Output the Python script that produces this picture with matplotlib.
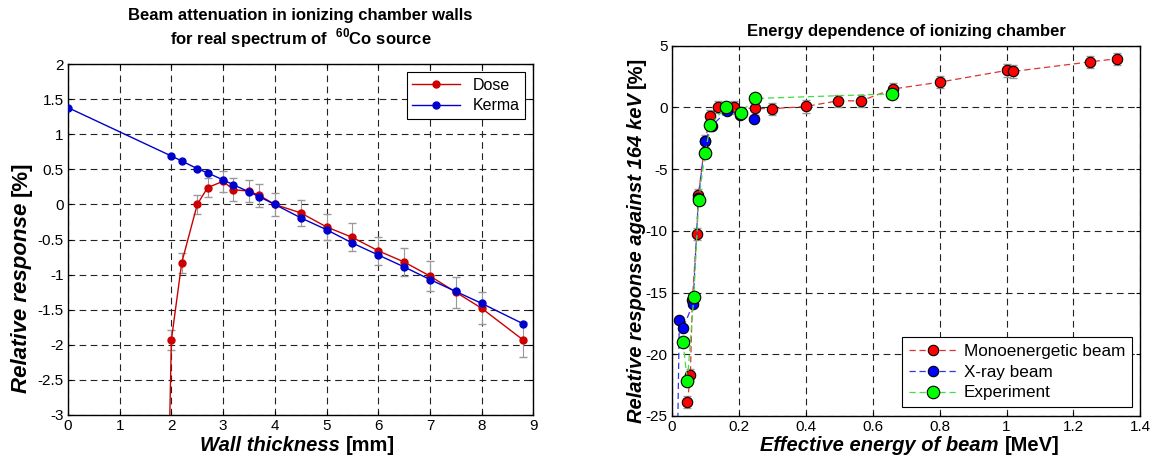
import matplotlib
matplotlib.use('Agg')
import matplotlib.pyplot as plt
from matplotlib.ticker import MultipleLocator, FuncFormatter

plt.rcParams['font.family'] = ['Liberation Sans', 'DejaVu Sans']
plt.rcParams['axes.unicode_minus'] = False
plt.rcParams['mathtext.fontset'] = 'custom'
plt.rcParams['mathtext.rm'] = 'Liberation Sans:bold'
plt.rcParams['mathtext.bf'] = 'Liberation Sans:bold'

# left chart: wall thickness [mm]
thick_kerma = [0, 2.0, 2.2, 2.5, 2.7, 3.0, 3.2, 3.5, 3.7, 4.0, 4.5, 5.0, 5.5, 6.0, 6.5, 7.0, 7.5, 8.0, 8.8]
kerma = [1.38, 0.69, 0.62, 0.51, 0.45, 0.35, 0.28, 0.18, 0.11, 0.0, -0.19, -0.36, -0.55, -0.72, -0.89, -1.07,
         -1.24, -1.41, -1.70]
thick_dose = [1.8, 2.0, 2.2, 2.5, 2.7, 3.0, 3.2, 3.5, 3.7, 4.0, 4.5, 5.0, 5.5, 6.0, 6.5, 7.0, 7.5, 8.0, 8.8]
dose = [-9.0, -1.93, -0.83, 0.0, 0.24, 0.33, 0.21, 0.19, 0.13, 0.0, -0.12, -0.32, -0.47, -0.66, -0.82, -1.02,
        -1.25, -1.48, -1.93]
dose_err = [0.14, 0.14, 0.14, 0.14, 0.14, 0.15, 0.16, 0.16, 0.16, 0.16, 0.18, 0.18, 0.2, 0.2, 0.2, 0.21,
            0.22, 0.23, 0.25]

# right chart: effective energy [MeV]
e_mono = [0.047, 0.056, 0.062, 0.075, 0.08, 0.1, 0.116, 0.138, 0.185, 0.25, 0.30, 0.40, 0.497, 0.566, 0.661,
          0.80, 1.00, 1.02, 1.25, 1.33]
r_mono = [-23.9, -21.7, -15.6, -10.25, -7.1, -2.7, -0.68, 0.03, 0.0, -0.08, -0.1, 0.08, 0.54, 0.54, 1.5,
          2.05, 3.0, 2.92, 3.7, 3.95]
e_xray = [0.015, 0.023, 0.034, 0.064, 0.08, 0.1, 0.12, 0.165, 0.205, 0.246]
r_xray = [-32.0, -17.2, -17.9, -15.9, -7.3, -2.7, -1.5, -0.27, -0.57, -0.95]
e_exp = [0.034, 0.047, 0.066, 0.081, 0.1, 0.116, 0.161, 0.206, 0.25, 0.658]
r_exp = [-19.0, -22.2, -15.4, -7.47, -3.7, -1.41, 0.03, -0.43, 0.73, 1.1]
mono_err = 0.5

fmt = FuncFormatter(lambda v, p: '%g' % v)
grid_kw = dict(color='#222222', linestyle=(0, (6, 4)), linewidth=0.8)


def style_axes(ax):
    ax.grid(True, **grid_kw)
    ax.tick_params(direction='in', top=True, right=True, length=3, labelsize=11, pad=3)
    ax.xaxis.set_major_formatter(fmt)
    ax.yaxis.set_major_formatter(fmt)
    for s in ax.spines.values():
        s.set_linewidth(1.0)


def two_part_xlabel(ax, xpos, ypos, italic, normal, size=14.5):
    t1 = ax.text(xpos, ypos, italic, transform=ax.transAxes, ha='right', va='top',
                 fontsize=size, fontweight='bold', fontstyle='italic')
    ax.annotate(normal, xy=(1, 0), xycoords=t1, ha='left', va='bottom',
                fontsize=size, fontweight='bold')


def two_part_ylabel(ax, xpos, ypos, italic, normal, size=14.5):
    t1 = ax.text(xpos, ypos, italic, transform=ax.transAxes, ha='center', va='bottom', rotation=90,
                 fontsize=size, fontweight='bold', fontstyle='italic')
    ax.annotate(normal, xy=(0.5, 1), xycoords=t1, ha='center', va='bottom', rotation=90,
                fontsize=size, fontweight='bold')


fig = plt.figure(figsize=(11.52, 4.58), dpi=100)
ax1 = fig.add_axes([0.059, 0.094, 0.404, 0.766])
ax2 = fig.add_axes([0.583, 0.092, 0.407, 0.808])

# left
ax1.errorbar(thick_dose, dose, yerr=dose_err, fmt='none', ecolor='#999999', elinewidth=0.8, capsize=3,
             zorder=2)
ax1.plot(thick_dose, dose, '-o', color='#cc0000', lw=1, ms=5, label='Dose', zorder=3)
ax1.plot(thick_kerma, kerma, '-o', color='#0000cc', lw=1, ms=5, label='Kerma', zorder=4)
ax1.set_xlim(0, 9)
ax1.set_ylim(-3, 2)
ax1.xaxis.set_major_locator(MultipleLocator(1))
ax1.yaxis.set_major_locator(MultipleLocator(0.5))
style_axes(ax1)
ax1.set_title('Beam attenuation in ionizing chamber walls\nfor real spectrum of  $^{\\mathbf{60}}$Co source',
              fontsize=12, fontweight='bold', pad=14)
leg1 = ax1.legend(loc='upper right', fontsize=11.5, fancybox=False, edgecolor='black', framealpha=1,
                  handlelength=3, borderaxespad=0.5, borderpad=0.35, labelspacing=0.35)
leg1.get_frame().set_linewidth(0.8)
two_part_xlabel(ax1, 0.597, -0.06, 'Wall thickness ', '[mm]')
two_part_ylabel(ax1, -0.1, 0.063, 'Relative response ', '[%]', size=16)

# right
dash = (0, (5, 3))
ax2.errorbar(e_mono, r_mono, yerr=mono_err, fmt='none', ecolor='#999999', elinewidth=0.8, capsize=3,
             zorder=2)
ax2.plot(e_mono, r_mono, linestyle=dash, color='#dd3333', lw=0.9, marker='o', ms=7.5, mfc='red',
         mec='black', mew=0.8, label='Monoenergetic beam', zorder=3)
ax2.plot(e_xray, r_xray, linestyle=dash, color='#3333ee', lw=0.9, marker='o', ms=7.5, mfc='blue',
         mec='black', mew=0.8, label='X-ray beam', zorder=4)
ax2.plot(e_exp, r_exp, linestyle=dash, color='#44dd44', lw=0.9, marker='o', ms=9, mfc='#00ff00',
         mec='black', mew=0.8, label='Experiment', zorder=5)
ax2.set_xlim(0, 1.4)
ax2.set_ylim(-25, 5)
ax2.xaxis.set_major_locator(MultipleLocator(0.2))
ax2.yaxis.set_major_locator(MultipleLocator(5))
style_axes(ax2)
ax2.set_title('Energy dependence of ionizing chamber', fontsize=12, fontweight='bold', pad=7)
leg2 = ax2.legend(loc='lower right', fontsize=12.3, fancybox=False, edgecolor='black', framealpha=1,
                  handlelength=2.8, handletextpad=0.4, borderaxespad=0.5, borderpad=0.4,
                  labelspacing=0.35)
leg2.get_frame().set_linewidth(0.8)
two_part_xlabel(ax2, 0.71, -0.055, 'Effective energy of beam ', '[MeV]')
two_part_ylabel(ax2, -0.075, -0.02, 'Relative response against 164 keV ', '[%]')

fig.savefig('out.png', dpi=100)
